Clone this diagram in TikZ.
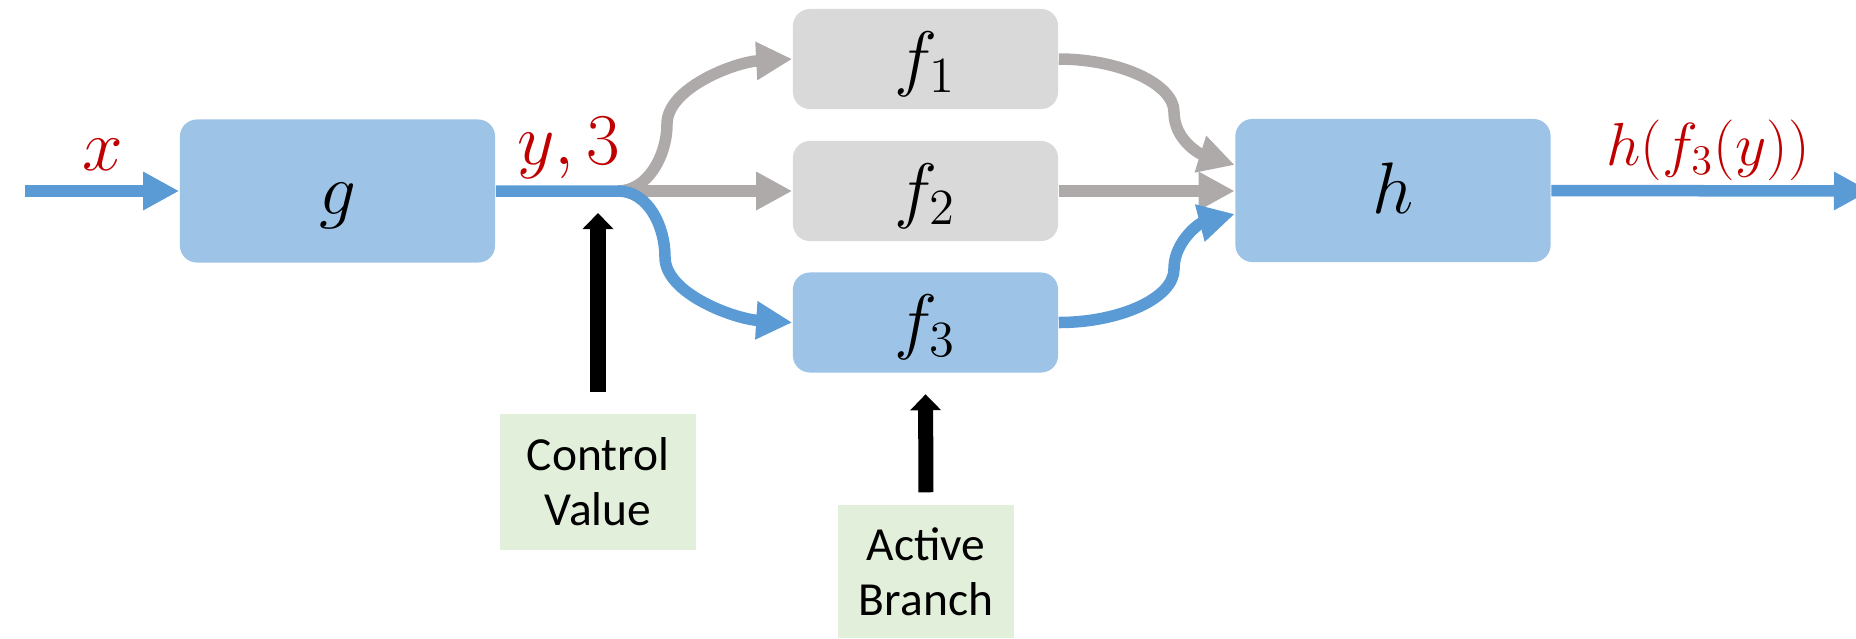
\documentclass[tikz,border=0pt]{standalone}
\usepackage{fontspec}
\newfontfamily\notefont{Carlito}
\usetikzlibrary{arrows.meta}

\definecolor{fillblue}{HTML}{9DC3E6}
\definecolor{lineblue}{HTML}{5B9BD5}
\definecolor{fillgray}{HTML}{D9D9D9}
\definecolor{linegray}{HTML}{AEAAAA}
\definecolor{fillgreen}{HTML}{E2EFDA}
\definecolor{labelred}{HTML}{C00000}

\begin{document}
\begin{tikzpicture}[x=0.01cm, y=-0.01cm,
  block/.style={rectangle, rounded corners=0.17cm, inner sep=0pt,
    text height=0.55cm, text depth=0.09cm,
    font=\fontsize{20}{24}\selectfont},
  bigblock/.style={block, fill=fillblue, minimum width=3.15cm, minimum height=1.43cm},
  branchoff/.style={block, fill=fillgray, minimum width=2.65cm, minimum height=1.0cm},
  branchon/.style={block, fill=fillblue, minimum width=2.65cm, minimum height=1.0cm},
  note/.style={rectangle, fill=fillgreen, inner sep=0pt, align=center,
    font=\notefont\fontsize{13.5}{15.6}\selectfont},
  varlabel/.style={anchor=base, inner sep=0pt, text=labelred,
    font=\fontsize{20}{24}\selectfont},
  tip/.style={-{Triangle[length=0.36cm, width=0.36cm]}},
  activeflow/.style={tip, draw=lineblue, line width=0.115cm},
  idleflow/.style={tip, draw=linegray, line width=0.115cm},
  pointer/.style={-{Triangle[length=0.16cm, width=0.30cm]}, draw=black, line width=0.15cm}
]
\useasboundingbox (0,0) rectangle (1856,638);

% processing blocks
\node[bigblock] (g) at (337.5,191) {$g$};
\node[branchoff] (f1) at (925.5,59) {$f_1$};
\node[branchoff] (f2) at (925.5,191) {$f_2$};
\node[branchon] (f3) at (925.5,322.5) {$f_3$};
\node[bigblock] (h) at (1393,190.5) {$h$};

% annotation boxes
\node[note, minimum width=1.96cm, minimum height=1.36cm] (cv) at (598,482) {Control\\Value};
\node[note, minimum width=1.76cm, minimum height=1.33cm] (ab) at (926,571.5) {Active\\Branch};

% signal labels
\node[varlabel] (lx) at (103,170) {$x$};
\node[varlabel] (ly) at (569,164) {$y,3$};
\node[varlabel, font=\fontsize{17.5}{21}\selectfont] (lh) at (1708,165) {$h(f_3(y))$};

% helper points
\coordinate (src) at (25,191);
\coordinate (split) at (618,191);
\coordinate (sink) at (1870,191);
\coordinate (ctl) at (598,191);

% idle branches
\draw[idleflow] (split) .. controls (648,191) and (667,155) .. (667,124)
  .. controls (667,88) and (735,62) .. (f1.west);
\draw[idleflow] (split) -- (f2.west);
\draw[idleflow] (f1.east) .. controls (1120,59) and (1174,84) .. (1174,112)
  .. controls (1174,140) and (1200,154) .. ([yshift=0.255cm]h.west);
\draw[idleflow] (f2.east) -- (f2.east -| h.west);

% active path
\draw[activeflow] (src) -- (g.west);
\draw[activeflow] (g.east) -- (split) .. controls (648,191) and (665,226) .. (665,257)
  .. controls (665,294) and (735,319) .. (f3.west);
\draw[activeflow] (f3.east) .. controls (1120,322.5) and (1174,298) .. (1174,269)
  .. controls (1174,241) and (1200,223) .. ([yshift=-0.235cm]h.west);
\begin{scope}
  \clip (0,0) rectangle (1856,638);
  \draw[activeflow] (h.east) -- (sink);
\end{scope}

% control pointers
\draw[pointer, shorten <=0.21cm, shorten >=0.22cm] (cv.north) -- (ctl);
\draw[pointer, shorten <=0.12cm, shorten >=0.21cm] (ab.north) -- (f3.south);
\end{tikzpicture}
\end{document}
